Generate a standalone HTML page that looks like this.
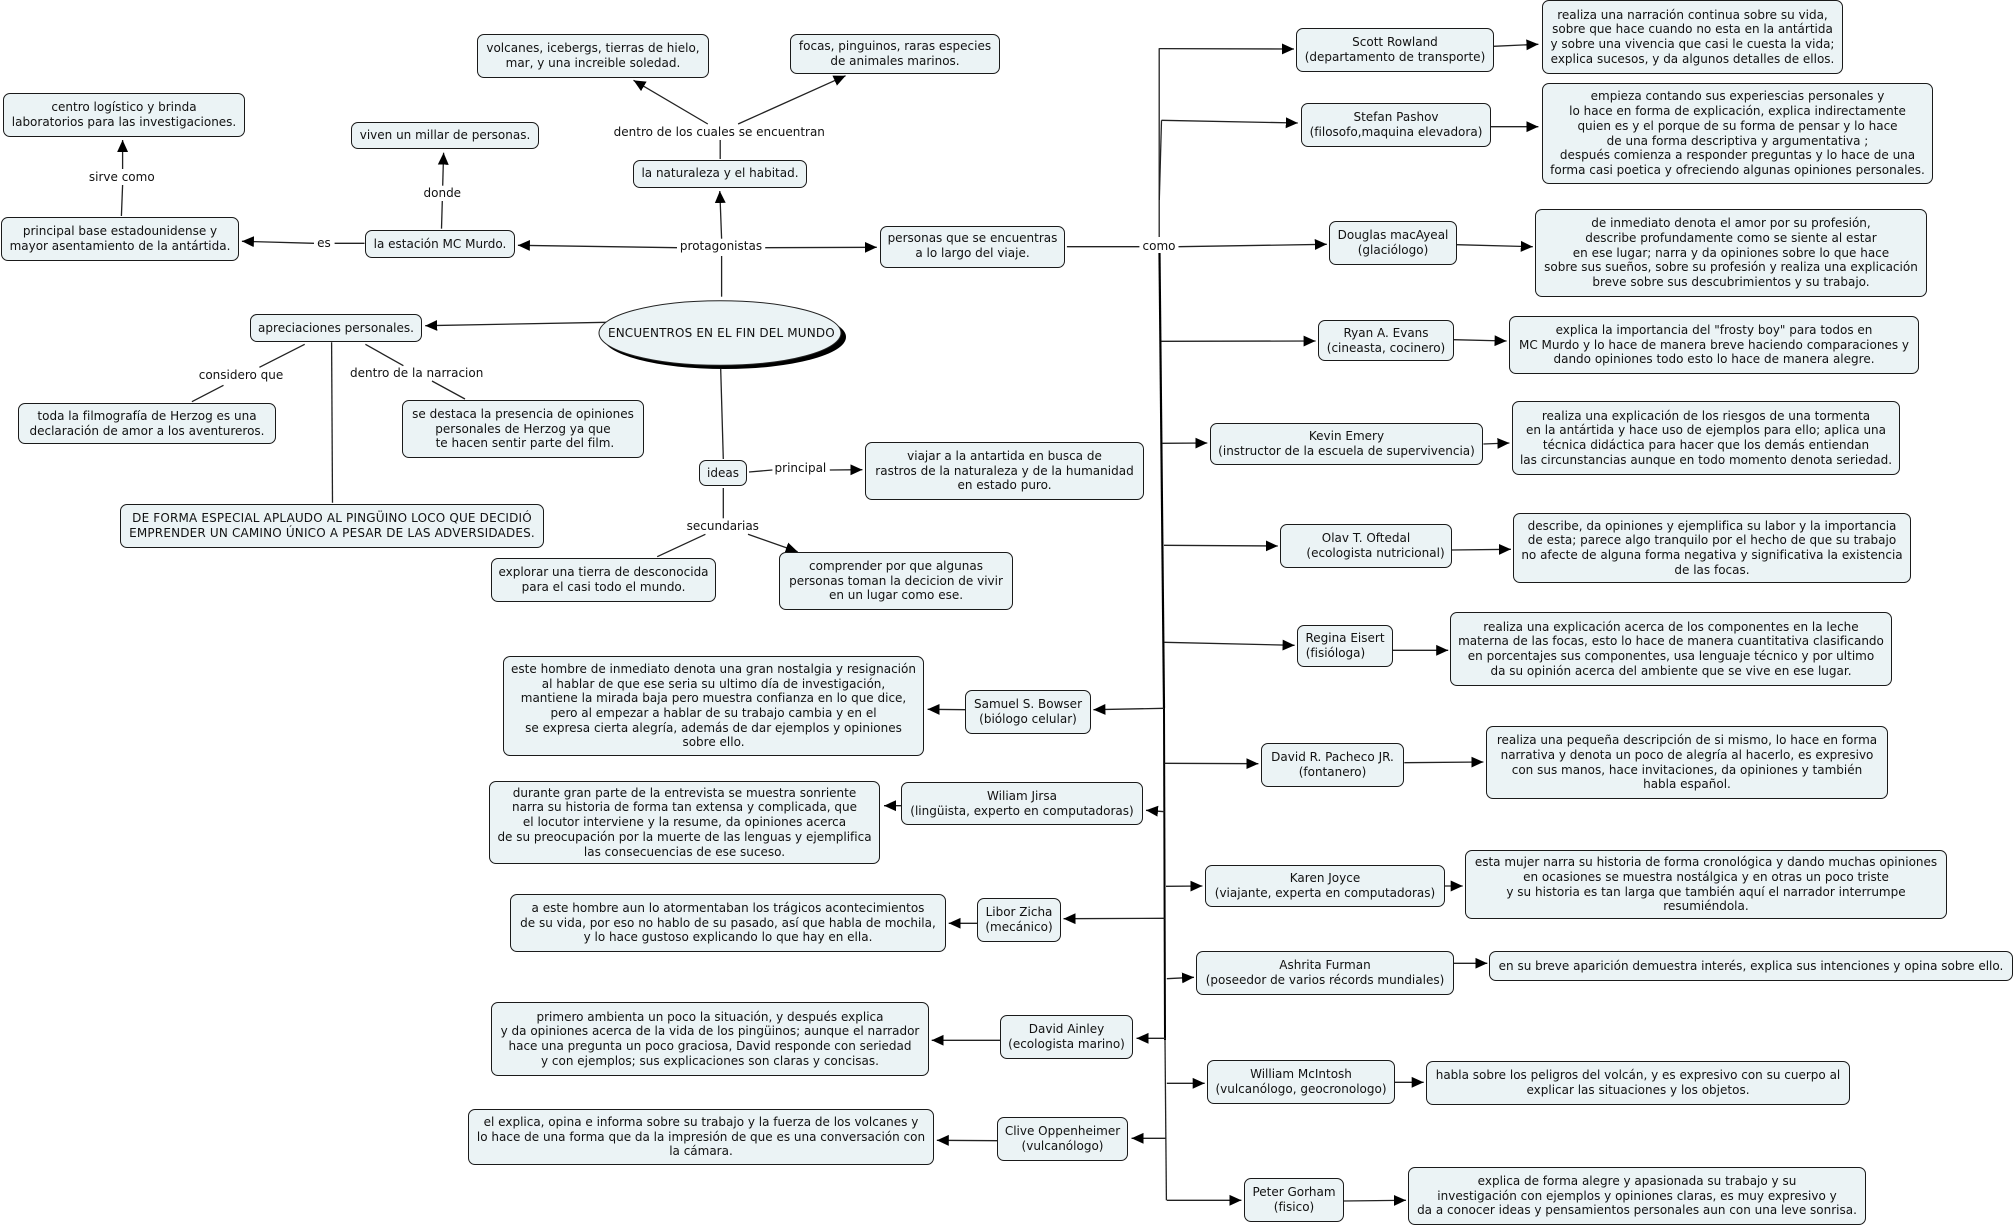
<!DOCTYPE html>
<html lang="es"><head><meta charset="utf-8"><title>ENCUENTROS EN EL FIN DEL MUNDO</title>
<style>
html,body{margin:0;padding:0;background:#fff}
#c{position:relative;width:2014px;height:1226px;overflow:hidden;background:#fff;font-family:"DejaVu Sans",Verdana,sans-serif;font-size:12px;line-height:14.67px;color:#111}
svg{position:absolute;left:0;top:0}
.n{position:absolute;box-sizing:border-box;border:1.2px solid #1a1a1a;border-radius:7px;background:#ebf3f5;display:flex;flex-direction:column;justify-content:center;align-items:center;text-align:center;white-space:pre}
.u{padding-bottom:2px}
text{font-family:"DejaVu Sans",Verdana,sans-serif;font-size:12px;fill:#111;text-anchor:middle}
line,polyline{stroke:#222;stroke-width:1.3;fill:none}
.a{marker-end:url(#m)}
</style></head><body><div id="c">
<svg width="2014" height="1226" viewBox="0 0 2014 1226">
<defs><marker id="m" markerUnits="userSpaceOnUse" markerWidth="12" markerHeight="12" refX="11" refY="5.5" orient="auto" viewBox="0 0 11 11"><path d="M0 0.5L11 5.5L0 10.5Z" fill="#000"/></marker></defs>
<!-- left area -->
<line x1="121.4" y1="216" x2="122.6" y2="185"/><line class="a" x1="122.6" y1="169" x2="122.6" y2="140"/>
<line x1="441.5" y1="228.7" x2="442.3" y2="201"/><line class="a" x1="442.7" y1="185.7" x2="443.6" y2="152.7"/>
<line x1="364.5" y1="243.3" x2="334.6" y2="243.3"/><line class="a" x1="314" y1="243.3" x2="241.9" y2="241.3"/>
<line class="a" x1="677" y1="247.7" x2="517.9" y2="245.3"/>
<line class="a" x1="606.8" y1="322.3" x2="425.2" y2="325.7"/>
<line x1="304.7" y1="344.3" x2="259.4" y2="367.3"/><line x1="223.5" y1="385.3" x2="191.9" y2="401.7"/>
<line x1="331.6" y1="342.3" x2="332.5" y2="502.7"/>
<line x1="365.4" y1="344.3" x2="403.4" y2="365.7"/><line x1="432" y1="381" x2="465" y2="399"/>
<!-- centre -->
<line x1="721.6" y1="296.7" x2="721.6" y2="256"/><line class="a" x1="721.6" y1="238.7" x2="719.8" y2="191"/>
<line class="a" x1="765.2" y1="247.7" x2="876.8" y2="247.3"/>
<line x1="720.2" y1="159" x2="720.2" y2="140"/>
<line class="a" x1="707.8" y1="124" x2="633.5" y2="80.3"/><line class="a" x1="738.1" y1="124" x2="845.6" y2="75.7"/>
<line x1="720.7" y1="369" x2="723.3" y2="459"/>
<line x1="749" y1="472" x2="772.4" y2="470"/><line class="a" x1="829.8" y1="470" x2="862.4" y2="469.7"/>
<line x1="723.3" y1="488" x2="723.3" y2="518.3"/>
<line x1="705.4" y1="534.3" x2="657.2" y2="556.7"/><line class="a" x1="748" y1="534.3" x2="797.7" y2="551.7"/>
<!-- tree -->
<line x1="1066.9" y1="246.7" x2="1139.4" y2="246.7"/>
<line class="a" x1="1178.5" y1="246.7" x2="1326.8" y2="244.3"/>
<polyline points="1159.2,237 1159.2,48.3"/><line class="a" x1="1159.2" y1="48.6" x2="1294" y2="49"/>
<polyline points="1159.3,200 1161.5,120.3"/><line class="a" x1="1161.5" y1="120.3" x2="1297.8" y2="123"/>
<line style="stroke-width:2.2;stroke:#000" x1="1159.5" y1="253" x2="1164" y2="708"/>
<line style="stroke-width:2;stroke:#000" x1="1164" y1="708" x2="1165" y2="1040"/>
<line x1="1165" y1="1040" x2="1166.4" y2="1200.3"/>
<line class="a" x1="1161.5" y1="341.3" x2="1315.6" y2="341"/>
<line class="a" x1="1162" y1="443.3" x2="1207.3" y2="443"/>
<line class="a" x1="1164" y1="545.3" x2="1277.8" y2="546"/>
<line class="a" x1="1164.5" y1="642.3" x2="1294.6" y2="645.3"/>
<line class="a" x1="1164" y1="708.3" x2="1093.4" y2="709.7"/>
<line class="a" x1="1164.5" y1="763.3" x2="1258.4" y2="763.7"/>
<line class="a" x1="1164.5" y1="811.7" x2="1146" y2="810.3"/>
<line class="a" x1="1166" y1="886.3" x2="1202.4" y2="886"/>
<line class="a" x1="1164.5" y1="918.3" x2="1063.5" y2="918.7"/>
<line class="a" x1="1166.8" y1="978.7" x2="1194" y2="977.3"/>
<line class="a" x1="1165.6" y1="1038.3" x2="1136.5" y2="1038.3"/>
<line class="a" x1="1166.8" y1="1083.3" x2="1204.7" y2="1083.3"/>
<line class="a" x1="1165.6" y1="1138.3" x2="1131.5" y2="1138.3"/>
<line class="a" x1="1166.8" y1="1200.3" x2="1241.4" y2="1200.3"/>
<!-- node to detail -->
<line class="a" x1="1493.5" y1="46.3" x2="1538.4" y2="44.3"/>
<line class="a" x1="1490.7" y1="126.7" x2="1538.4" y2="126.7"/>
<line class="a" x1="1456.5" y1="244.7" x2="1532.8" y2="246.7"/>
<line class="a" x1="1453.7" y1="339.7" x2="1506.6" y2="341"/>
<line class="a" x1="1483.4" y1="444" x2="1509.4" y2="443"/>
<line class="a" x1="1451.7" y1="550" x2="1510.9" y2="549.3"/>
<line class="a" x1="1392.6" y1="650.3" x2="1448.2" y2="650.3"/>
<line class="a" x1="1404.3" y1="762.7" x2="1483.4" y2="762"/>
<line class="a" x1="1444.9" y1="886" x2="1462.7" y2="886"/>
<line class="a" x1="1453.3" y1="963.3" x2="1487.3" y2="963.3"/>
<line class="a" x1="1394.7" y1="1082.3" x2="1423.7" y2="1082.3"/>
<line class="a" x1="1343.5" y1="1201" x2="1405.9" y2="1200.3"/>
<line class="a" x1="965.2" y1="709.7" x2="927.6" y2="709.3"/>
<line class="a" x1="901.4" y1="805.7" x2="884" y2="805.7"/>
<line class="a" x1="977.2" y1="923.3" x2="948.7" y2="923.3"/>
<line class="a" x1="1000.6" y1="1040.3" x2="931.7" y2="1040.3"/>
<line class="a" x1="997.4" y1="1140.7" x2="936.8" y2="1140.3"/>
<!-- ellipse -->
<ellipse cx="724.5" cy="337" rx="121.5" ry="32" fill="#000"/>
<ellipse cx="720" cy="333" rx="121" ry="32.3" fill="#ebf3f5" stroke="#222" stroke-width="1"/>
<text x="721.4" y="337" style="letter-spacing:.14px">ENCUENTROS EN EL FIN DEL MUNDO</text>
<!-- labels -->
<text x="121.8" y="181">sirve como</text>
<text x="442.3" y="197">donde</text>
<text x="324" y="247">es</text>
<text x="241" y="379">considero que</text>
<text x="416.7" y="377">dentro de la narracion</text>
<text x="719.3" y="136">dentro de los cuales se encuentran</text>
<text x="721" y="250">protagonistas</text>
<text x="1159" y="250">como</text>
<text x="800.4" y="472">principal</text>
<text x="722.8" y="530">secundarias</text>
</svg>

<div class="n" style="left:3px;top:93px;width:242px;height:44px">centro logístico y brinda
laboratorios para las investigaciones.</div>
<div class="n" style="left:477px;top:34px;width:232px;height:44px">volcanes, icebergs, tierras de hielo,
mar, y una increible soledad.</div>
<div class="n" style="left:790px;top:34px;width:210px;height:40px">focas, pinguinos, raras especies
de animales marinos.</div>
<div class="n" style="left:351px;top:122px;width:188px;height:27px">viven un millar de personas.</div>
<div class="n u" style="left:633px;top:160px;width:174px;height:28px">la naturaleza y el habitad.</div>
<div class="n" style="left:1px;top:217px;width:238px;height:44px">principal base estadounidense y
mayor asentamiento de la antártida.</div>
<div class="n" style="left:365px;top:230px;width:150px;height:28px">la estación MC Murdo.</div>
<div class="n u" style="left:880px;top:226px;width:185px;height:42px">personas que se encuentras
a lo largo del viaje.</div>
<div class="n" style="left:250px;top:314px;width:172px;height:28px">apreciaciones personales.</div>
<div class="n" style="left:18px;top:403px;width:258px;height:41px">toda la filmografía de Herzog es una
declaración de amor a los aventureros.</div>
<div class="n" style="left:402px;top:400px;width:242px;height:58px">se destaca la presencia de opiniones
personales de Herzog ya que
 te hacen sentir parte del film.</div>
<div class="n" style="left:120px;top:504px;width:424px;height:44px;letter-spacing:.17px">DE FORMA ESPECIAL APLAUDO AL PINGÜINO LOCO QUE DECIDIÓ
EMPRENDER UN CAMINO ÚNICO A PESAR DE LAS ADVERSIDADES.</div>
<div class="n" style="left:699px;top:460px;width:48px;height:26px">ideas</div>
<div class="n" style="left:865px;top:442px;width:279px;height:58px">viajar a la antartida en busca de
rastros de la naturaleza y de la humanidad
en estado puro.</div>
<div class="n" style="left:491px;top:558px;width:225px;height:44px">explorar una tierra de desconocida
para el casi todo el mundo.</div>
<div class="n" style="left:779px;top:552px;width:234px;height:58px">comprender por que algunas
personas toman la decicion de vivir
en un lugar como ese.</div>
<div class="n" style="left:503px;top:656px;width:421px;height:100px">este hombre de inmediato denota una gran nostalgia y resignación
al hablar de que ese seria su ultimo día de investigación,
mantiene la mirada baja pero muestra confianza en lo que dice,
pero al empezar a hablar de su trabajo cambia y en el
se expresa cierta alegría, además de dar ejemplos y opiniones
sobre ello.</div>
<div class="n" style="left:965px;top:690px;width:126px;height:44px">Samuel S. Bowser
(biólogo celular)</div>
<div class="n" style="left:489px;top:781px;width:391px;height:83px">durante gran parte de la entrevista se muestra sonriente
narra su historia de forma tan extensa y complicada, que
el locutor interviene y la resume, da opiniones acerca
de su preocupación por la muerte de las lenguas y ejemplifica
las consecuencias de ese suceso.</div>
<div class="n" style="left:901px;top:782px;width:242px;height:43px">Wiliam Jirsa
(lingüista, experto en computadoras)</div>
<div class="n" style="left:510px;top:894px;width:436px;height:58px">a este hombre aun lo atormentaban los trágicos acontecimientos
de su vida, por eso no hablo de su pasado, así que habla de mochila,
y lo hace gustoso explicando lo que hay en ella.</div>
<div class="n" style="left:977px;top:898px;width:84px;height:44px">Libor Zicha
(mecánico)</div>
<div class="n" style="left:491px;top:1002px;width:438px;height:74px">primero ambienta un poco la situación, y después explica
y da opiniones acerca de la vida de los pingüinos; aunque el narrador
hace una pregunta un poco graciosa, David responde con seriedad
y con ejemplos; sus explicaciones son claras y concisas.</div>
<div class="n" style="left:1000px;top:1015px;width:133px;height:44px">David Ainley
(ecologista marino)</div>
<div class="n" style="left:468px;top:1109px;width:466px;height:56px">el explica, opina e informa sobre su trabajo y la fuerza de los volcanes y
lo hace de una forma que da la impresión de que es una conversación con
la cámara.</div>
<div class="n" style="left:997px;top:1117px;width:131px;height:44px">Clive Oppenheimer
(vulcanólogo)</div>

<div class="n" style="left:1296px;top:28px;width:198px;height:44px">Scott Rowland
(departamento de transporte)</div>
<div class="n" style="left:1542px;top:0px;width:301px;height:74px">realiza una narración continua sobre su vida,
sobre que hace cuando no esta en la antártida
y sobre una vivencia que casi le cuesta la vida;
explica sucesos, y da algunos detalles de ellos.</div>
<div class="n" style="left:1301px;top:103px;width:190px;height:44px">Stefan Pashov
(filosofo,maquina elevadora)</div>
<div class="n" style="left:1542px;top:83px;width:391px;height:101px">empieza contando sus experiescias personales y
lo hace en forma de explicación, explica indirectamente
quien es y el porque de su forma de pensar y lo hace
de una forma descriptiva y argumentativa ;
después comienza a responder preguntas y lo hace de una
forma casi poetica y ofreciendo algunas opiniones personales.</div>
<div class="n" style="left:1329px;top:221px;width:128px;height:44px">Douglas macAyeal
(glaciólogo)</div>
<div class="n" style="left:1535px;top:209px;width:392px;height:88px">de inmediato denota el amor por su profesión,
describe profundamente como se siente al estar
en ese lugar; narra y da opiniones sobre lo que hace
sobre sus sueños, sobre su profesión y realiza una explicación
breve sobre sus descubrimientos y su trabajo.</div>
<div class="n" style="left:1318px;top:320px;width:136px;height:41px">Ryan A. Evans
(cineasta, cocinero)</div>
<div class="n" style="left:1509px;top:316px;width:410px;height:58px">explica la importancia del "frosty boy" para todos en
MC Murdo y lo hace de manera breve haciendo comparaciones y
dando opiniones todo esto lo hace de manera alegre.</div>
<div class="n" style="left:1210px;top:423px;width:273px;height:42px">Kevin Emery
(instructor de la escuela de supervivencia)</div>
<div class="n" style="left:1512px;top:401px;width:388px;height:74px">realiza una explicación de los riesgos de una tormenta
en la antártida y hace uso de ejemplos para ello; aplica una
técnica didáctica para hacer que los demás entiendan
las circunstancias aunque en todo momento denota seriedad.</div>
<div class="n" style="left:1280px;top:524px;width:172px;height:44px">Olav T. Oftedal
     (ecologista nutricional)</div>
<div class="n" style="left:1513px;top:513px;width:398px;height:70px">describe, da opiniones y ejemplifica su labor y la importancia
de esta; parece algo tranquilo por el hecho de que su trabajo
no afecte de alguna forma negativa y significativa la existencia
de las focas.</div>
<div class="n" style="left:1297px;top:625px;width:96px;height:42px">Regina Eisert
(fisióloga)     </div>
<div class="n" style="left:1450px;top:612px;width:442px;height:74px">realiza una explicación acerca de los componentes en la leche
materna de las focas, esto lo hace de manera cuantitativa clasificando
en porcentajes sus componentes, usa lenguaje técnico y por ultimo
da su opinión acerca del ambiente que se vive en ese lugar.</div>
<div class="n" style="left:1261px;top:743px;width:143px;height:44px">David R. Pacheco JR.
(fontanero)</div>
<div class="n" style="left:1486px;top:726px;width:402px;height:73px">realiza una pequeña descripción de si mismo, lo hace en forma
narrativa y denota un poco de alegría al hacerlo, es expresivo
con sus manos, hace invitaciones, da opiniones y también
habla español.</div>
<div class="n" style="left:1205px;top:865px;width:240px;height:42px">Karen Joyce
(viajante, experta en computadoras)</div>
<div class="n" style="left:1465px;top:850px;width:482px;height:69px">esta mujer narra su historia de forma cronológica y dando muchas opiniones
en ocasiones se muestra nostálgica y en otras un poco triste
y su historia es tan larga que también aquí el narrador interrumpe
resumiéndola.</div>
<div class="n" style="left:1196px;top:951px;width:258px;height:44px">Ashrita Furman
(poseedor de varios récords mundiales)</div>
<div class="n" style="left:1489px;top:951px;width:524px;height:30px">en su breve aparición demuestra interés, explica sus intenciones y opina sobre ello.</div>
<div class="n" style="left:1207px;top:1060px;width:188px;height:44px">William McIntosh
(vulcanólogo, geocronologo)</div>
<div class="n" style="left:1426px;top:1061px;width:424px;height:44px">habla sobre los peligros del volcán, y es expresivo con su cuerpo al
explicar las situaciones y los objetos.</div>
<div class="n" style="left:1244px;top:1178px;width:100px;height:44px">Peter Gorham
(fisico)</div>
<div class="n" style="left:1408px;top:1167px;width:458px;height:58px">explica de forma alegre y apasionada su trabajo y su
investigación con ejemplos y opiniones claras, es muy expresivo y
da a conocer ideas y pensamientos personales aun con una leve sonrisa.</div>
</div></body></html>
